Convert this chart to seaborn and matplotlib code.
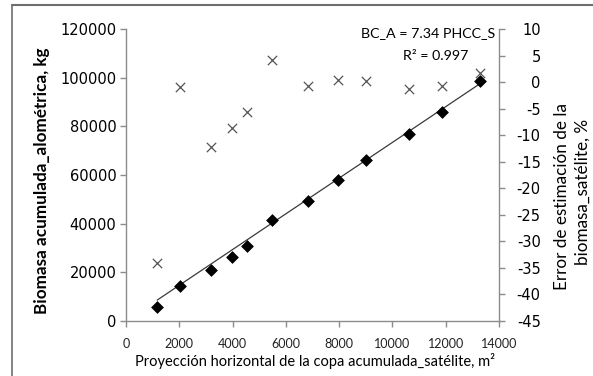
import matplotlib
matplotlib.use("Agg")
import matplotlib.pyplot as plt
import seaborn as sns
import numpy as np
import pandas as pd
from matplotlib.lines import Line2D

# ---- data ----
phcc_s = [1170, 2030, 3190, 3980, 4540, 5480, 6830, 7960, 9010, 10620, 11860, 13290]
bc_a = [5800, 14400, 21000, 26300, 30800, 41500, 49500, 58000, 66300, 77000, 86000, 98800]
error_pct = [-34.1, -0.9, -12.2, -8.6, -5.6, 4.2, -0.7, 0.4, 0.2, -1.3, -0.7, 1.7]
slope = 7.34
r2 = 0.997

x_ticks = [0, 2000, 4000, 6000, 8000, 10000, 12000, 14000]
y_ticks = [0, 20000, 40000, 60000, 80000, 100000, 120000]
y2_ticks = [-45, -40, -35, -30, -25, -20, -15, -10, -5, 0, 5, 10]

sns.set_theme(style="white")
plt.rcParams['font.family'] = ['Lato', 'DejaVu Sans']

W, H = 593, 376
fig = plt.figure(figsize=(W/100, H/100), dpi=100)
ax = fig.add_axes([126/W, 1-321/H, (499-126)/W, (321-29)/H])
ax2 = ax.twinx()

df = pd.DataFrame({"x": phcc_s, "y": bc_a, "err": error_pct})
trend = pd.DataFrame({"x": [phcc_s[0], phcc_s[-1]],
                      "y": [slope*phcc_s[0], slope*phcc_s[-1]]})

sns.lineplot(data=trend, x="x", y="y", ax=ax, color="#3a3a3a", lw=0.9, zorder=2)
sns.scatterplot(data=df, x="x", y="y", ax=ax, marker="D", color="black",
                s=36, edgecolor="black", linewidth=0.5, zorder=3)
sns.scatterplot(data=df, x="x", y="err", ax=ax2, marker="x", color="#555555",
                s=45, linewidth=0.9, zorder=3)

ax.set_xlim(0, 14000)
ax.set_ylim(0, 120000)
ax2.set_ylim(-45, 10)
ax.set_xticks(x_ticks)
ax.set_yticks(y_ticks)
ax2.set_yticks(y2_ticks)
num_font = dict(family="DejaVu Sans", size=10.5, color="black")
ax.set_xticklabels([str(t) for t in x_ticks], fontsize=9, color="#222222")
ax.set_yticklabels([str(t) for t in y_ticks], **num_font)
ax2.set_yticklabels([str(t) for t in y2_ticks], ha="right", **num_font)

spine_c = "#8c8c8c"
for a in (ax, ax2):
    for s in a.spines.values():
        s.set_color(spine_c)
        s.set_linewidth(1.0)
    a.spines["top"].set_visible(False)
ax.spines["right"].set_visible(False)
ax2.spines["left"].set_visible(False)
ax2.spines["bottom"].set_visible(False)

ax.tick_params(axis="both", which="both", direction="out", length=4, width=1.0,
               color=spine_c, left=True, bottom=True, pad=3)
ax.tick_params(axis="x", pad=8)
ax2.tick_params(axis="y", direction="out", length=4, width=1.0, color=spine_c,
                right=True, pad=26)
ax.grid(False)
ax2.grid(False)
ax.set_xlabel("")
ax.set_ylabel("")
ax2.set_ylabel("")

fig.text(315/W, 1-361/H, "Proyección horizontal de la copa acumulada_satélite, m²",
         fontsize=10.5, color="black", ha="center", va="center")
fig.text(42/W, 1-181/H, "Biomasa acumulada_alométrica, kg", fontsize=12.3,
         fontweight="bold", color="black", rotation=90, ha="center", va="center")
fig.text(562/W, 1-197/H, "Error de estimación de la", fontsize=12.3,
         color="black", rotation=90, ha="center", va="center")
fig.text(583/W, 1-192/H, "biomasa_satélite, %", fontsize=12.3,
         color="black", rotation=90, ha="center", va="center")

fig.text(428/W, 1-33/H, f"BC_A = {slope} PHCC_S",
         fontsize=10.3, ha="center", va="center", color="black")
fig.text(436/W, 1-56/H, f"R² = {r2}",
         fontsize=10.3, ha="center", va="center", color="black")

# figure border (top and left only, as in reference)
fig.add_artist(Line2D([12/W, 1], [1-5/H, 1-5/H], transform=fig.transFigure,
                      color="#6e6e6e", lw=1.5))
fig.add_artist(Line2D([12/W, 12/W], [0, 1-5/H], transform=fig.transFigure,
                      color="#6e6e6e", lw=1.2))

fig.savefig("out.png", dpi=100)
